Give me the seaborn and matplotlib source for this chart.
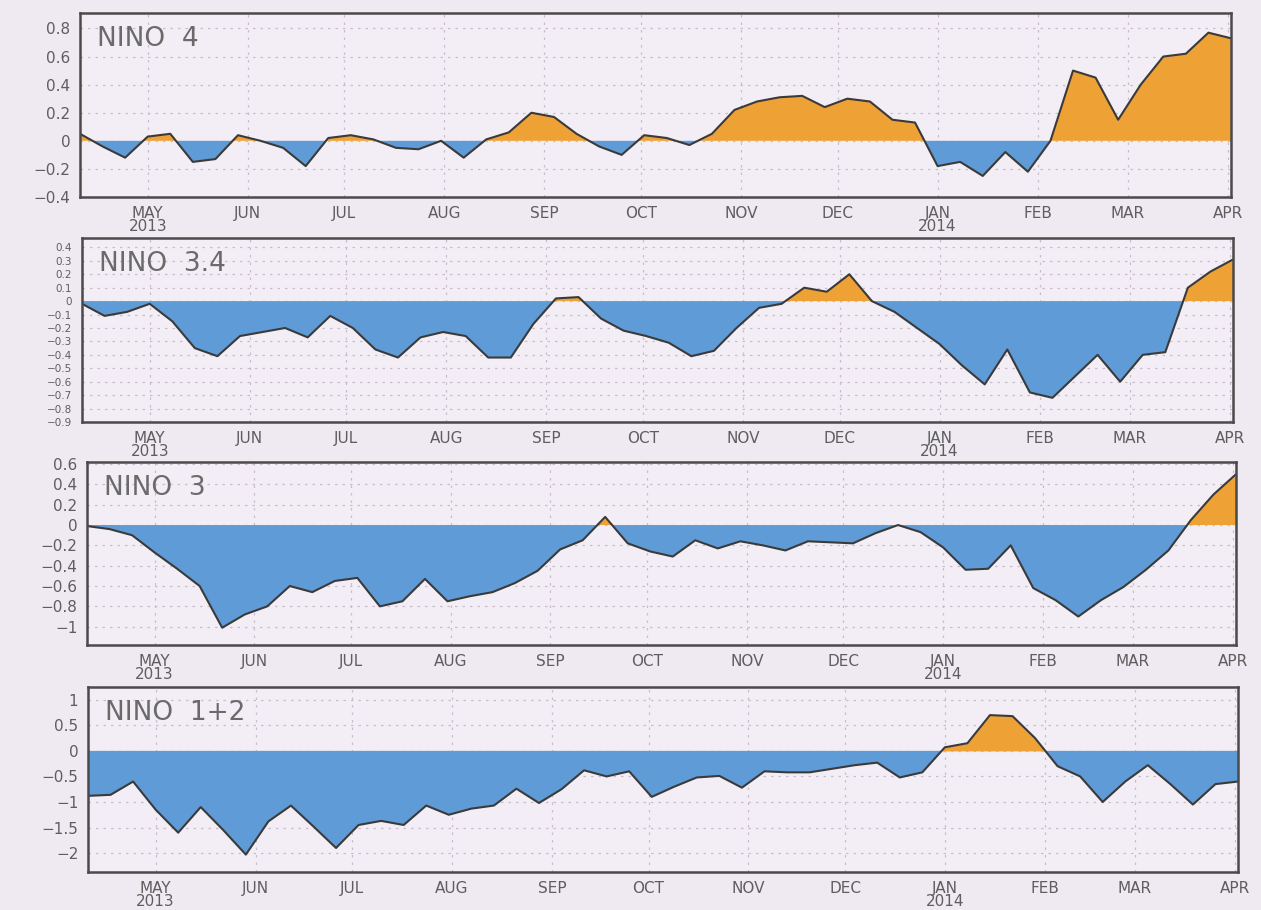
import numpy as np
import pandas as pd
import seaborn as sns
import matplotlib.pyplot as plt
from matplotlib.ticker import FuncFormatter

# weekly Nino SST anomalies, Apr 2013 - Apr 2014
dates = pd.date_range('2013-04-10', periods=52, freq='7D')

nino4 = [0.05, -0.04, -0.12, 0.03, 0.05, -0.15, -0.13, 0.04, 0.0, -0.05,
         -0.18, 0.02, 0.04, 0.01, -0.05, -0.06, 0.0, -0.12, 0.01, 0.06,
         0.2, 0.17, 0.05, -0.04, -0.1, 0.04, 0.02, -0.03, 0.05, 0.22,
         0.28, 0.31, 0.32, 0.24, 0.3, 0.28, 0.15, 0.13, -0.18, -0.15,
         -0.25, -0.08, -0.22, 0.0, 0.5, 0.45, 0.15, 0.4, 0.6, 0.62,
         0.77, 0.73]

nino34 = [-0.02, -0.11, -0.08, -0.02, -0.15, -0.35, -0.41, -0.26, -0.23, -0.2,
          -0.27, -0.11, -0.2, -0.36, -0.42, -0.27, -0.23, -0.26, -0.42, -0.42,
          -0.17, 0.02, 0.03, -0.13, -0.22, -0.26, -0.31, -0.41, -0.37, -0.2,
          -0.05, -0.02, 0.1, 0.07, 0.2, 0.0, -0.08, -0.2, -0.32, -0.48,
          -0.62, -0.36, -0.68, -0.72, -0.56, -0.4, -0.6, -0.4, -0.38, 0.1,
          0.22, 0.31]

nino3 = [-0.01, -0.04, -0.1, -0.27, -0.43, -0.6, -1.01, -0.88, -0.8, -0.6,
         -0.66, -0.55, -0.52, -0.8, -0.75, -0.53, -0.75, -0.7, -0.66, -0.57,
         -0.45, -0.24, -0.15, 0.08, -0.18, -0.26, -0.31, -0.15, -0.23, -0.16,
         -0.2, -0.25, -0.16, -0.17, -0.18, -0.08, 0.0, -0.07, -0.22, -0.44,
         -0.43, -0.2, -0.62, -0.74, -0.9, -0.74, -0.61, -0.44, -0.25, 0.05,
         0.3, 0.5]

nino12 = [-0.88, -0.86, -0.6, -1.15, -1.6, -1.1, -1.55, -2.03, -1.38, -1.07,
          -1.48, -1.9, -1.45, -1.37, -1.45, -1.07, -1.25, -1.13, -1.07, -0.74,
          -1.02, -0.75, -0.38, -0.5, -0.4, -0.9, -0.7, -0.52, -0.49, -0.72,
          -0.4, -0.42, -0.42, -0.35, -0.28, -0.23, -0.52, -0.42, 0.07, 0.15,
          0.7, 0.68, 0.25, -0.3, -0.5, -1.0, -0.6, -0.28, -0.65, -1.05,
          -0.65, -0.6]

names = ['NINO  4', 'NINO  3.4', 'NINO  3', 'NINO  1+2']
series = [nino4, nino34, nino3, nino12]

month_ticks = pd.date_range('2013-05-01', '2014-04-01', freq='MS')
month_labels = ['MAY\n2013', 'JUN', 'JUL', 'AUG', 'SEP', 'OCT', 'NOV', 'DEC',
                'JAN\n2014', 'FEB', 'MAR', 'APR']

ytick_sets = [np.arange(-0.4, 0.81, 0.2), np.arange(-0.9, 0.41, 0.1),
              np.arange(-1.0, 0.61, 0.2), np.arange(-2.0, 1.01, 0.5)]
ylims = [(-0.4, 0.91), (-0.9, 0.47), (-1.18, 0.62), (-2.37, 1.25)]
ytick_size = [11, 7.5, 11, 11]

# axes boxes in pixels: left, right, top, bottom (the scan is a little skewed)
boxes = [(80, 1231, 13, 197), (82, 1233, 238, 422),
         (87, 1236, 462, 645), (88, 1238, 687, 872)]

bg = '#efe9f1'
orange = '#eea236'
blue = '#5f9bd6'
txt = '#5e5e5e'

sns.set_theme(style='white')
plt.rcParams['font.family'] = ['DejaVu Sans']

W, H = 1261, 910
fig = plt.figure(figsize=(W / 100, H / 100), dpi=100, facecolor=bg)


def tick_fmt(v, pos):
    v = round(v, 2)
    if abs(v) < 1e-9:
        return '0'
    return f'{v:g}'.replace('-', '\u2212')


fmt = FuncFormatter(tick_fmt)

for name, vals, yt, yl, ys, (l, r, t, b) in zip(names, series, ytick_sets, ylims,
                                                 ytick_size, boxes):
    ax = fig.add_axes([l / W, 1 - b / H, (r - l) / W, (b - t) / H])
    ax.set_facecolor('#f3eef5')
    v = np.array(vals)

    ax.fill_between(dates, v, 0, where=v >= 0, interpolate=True,
                    color=orange, linewidth=0)
    ax.fill_between(dates, v, 0, where=v <= 0, interpolate=True,
                    color=blue, linewidth=0)
    sns.lineplot(x=dates, y=v, ax=ax, color='#3a3a3a', linewidth=1.5)

    ax.set_xlim(dates[0], dates[-1])
    ax.set_ylim(*yl)
    ax.set_yticks(yt)
    ax.yaxis.set_major_formatter(fmt)
    ax.set_xticks(month_ticks)
    ax.set_xticklabels(month_labels, linespacing=0.85)
    ax.set_xlabel('')
    ax.set_ylabel('')

    ax.grid(True, color='#c9bccb', linestyle=(0, (2, 4)), linewidth=0.9)
    ax.tick_params(axis='y', direction='out', length=5, width=1,
                   color='#5a5a5a', labelsize=ys, labelcolor=txt, pad=2)
    ax.tick_params(axis='x', direction='inout', length=7, width=1,
                   color='#5a5a5a', labelsize=11, labelcolor=txt, pad=3)
    for s in ax.spines.values():
        s.set_color('#4a4a4a')
        s.set_linewidth(1.8)

    ax.text(0.015, 0.93, name, transform=ax.transAxes, fontsize=19,
            color='#6a6a6a', va='top', ha='left')

fig.savefig('out.png', dpi=100, facecolor=bg)
